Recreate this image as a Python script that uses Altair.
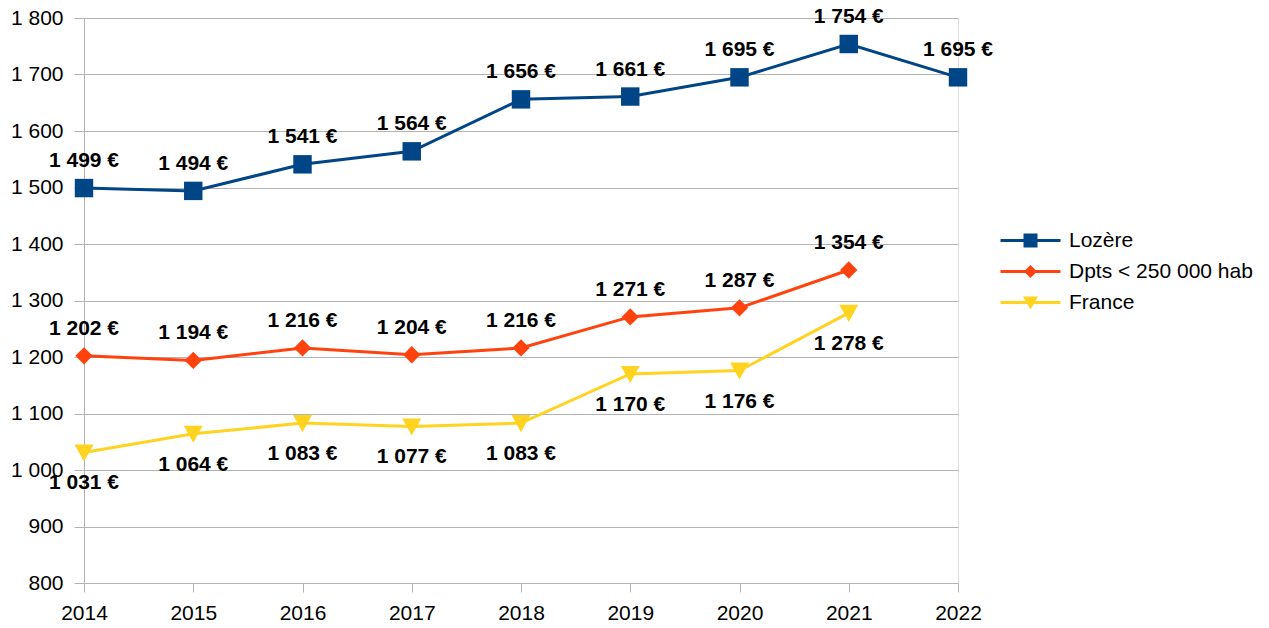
import altair as alt
import pandas as pd

years = [2014, 2015, 2016, 2017, 2018, 2019, 2020, 2021, 2022]
series_names = ["Lozère", "Dpts < 250 000 hab", "France"]
lozere = [1499, 1494, 1541, 1564, 1656, 1661, 1695, 1754, 1695]
dpts = [1202, 1194, 1216, 1204, 1216, 1271, 1287, 1354]
france = [1031, 1064, 1083, 1077, 1083, 1170, 1176, 1278]
colors = ["#004586", "#ff420e", "#ffd320"]
y_ticks = [800, 900, 1000, 1100, 1200, 1300, 1400, 1500, 1600, 1700, 1800]

rows = []
for name, vals in zip(series_names, [lozere, dpts, france]):
    for yr, v in zip(years, vals):
        rows.append({"year": yr, "value": v, "series": name,
                     "label": f"{v:,}".replace(",", " ") + " €"})
df = pd.DataFrame(rows)

FONT = "Liberation Sans"
FS = 21

color_scale = alt.Scale(domain=series_names, range=colors)

# legend symbols: line + marker (custom path, unit = 10px)
line_p = "M-3,-0.15H3V0.15H-3Z"
legend_paths = [
    line_p + "M-0.7,-0.7H0.7V0.7H-0.7Z",
    line_p + "M0,-0.65L0.65,0L0,0.65L-0.65,0Z",
    line_p + "M-0.75,-0.6H0.75L0,0.7Z",
]

legend = alt.Legend(
    title=None, orient="none", legendX=936, legendY=212,
    labelFont=FONT, labelFontSize=FS, labelColor="#000000", labelLimit=400,
    symbolSize=400, labelOffset=28, rowPadding=9, padding=0,
    symbolStrokeWidth=0, symbolOpacity=1,
)

x_enc = alt.X("year:Q", scale=alt.Scale(domain=[2014, 2022], nice=False, zero=False),
              axis=alt.Axis(values=years, format="d", title=None, grid=False,
                            labelFont=FONT, labelFontSize=FS, labelColor="#000000",
                            domainColor="#b3b3b3", tickColor="#b3b3b3", tickSize=9,
                            labelPadding=10, labelFlush=False))
y_enc = alt.Y("value:Q", scale=alt.Scale(domain=[800, 1800], nice=False, zero=False),
              axis=alt.Axis(values=y_ticks, title=None, grid=True, gridColor="#b3b3b3",
                            labelExpr="replace(format(datum.value, ','), ',', ' ')",
                            labelFont=FONT, labelFontSize=FS, labelColor="#000000",
                            domainColor="#b3b3b3", tickColor="#b3b3b3", tickSize=10,
                            labelPadding=11))

base = alt.Chart(df)

# legend-only layer: no rows drawn, entries come from the explicit scale domain
legend_layer = base.transform_filter("false").mark_point(filled=True).encode(
    x=x_enc, y=y_enc,
    color=alt.Color("series:N", scale=color_scale, legend=legend),
    shape=alt.Shape("series:N", scale=alt.Scale(domain=series_names, range=legend_paths), legend=legend),
)

lines = base.mark_line(strokeWidth=3).encode(
    x="year:Q", y="value:Q",
    color=alt.Color("series:N", scale=color_scale, legend=legend),
)

marker_shapes = [
    "M-1,-1H1V1H-1Z",
    "M0,-1L1,0L0,1L-1,0Z",
    "M-1,-0.85H1L0,0.95Z",
]
marker_sizes = [340, 300, 361]
point_layers = []
for name, shp, sz in zip(series_names, marker_shapes, marker_sizes):
    point_layers.append(
        base.transform_filter(alt.datum.series == name)
        .mark_point(filled=True, opacity=1, strokeWidth=0, shape=shp, size=sz)
        .encode(x="year:Q", y="value:Q",
                color=alt.Color("series:N", scale=color_scale, legend=legend))
    )

above = base.transform_filter(alt.datum.series != "France").mark_text(
    font=FONT, fontSize=FS, fontWeight="bold", color="#000000", baseline="middle", dy=-27
).encode(x="year:Q", y="value:Q", text="label:N")

below = base.transform_filter(alt.datum.series == "France").mark_text(
    font=FONT, fontSize=FS, fontWeight="bold", color="#000000", baseline="middle", dy=31
).encode(x="year:Q", y="value:Q", text="label:N")

chart = alt.layer(legend_layer, lines, *point_layers, above, below).properties(
    width=874, height=565,
    autosize=alt.AutoSizeParams(type="none"),
    padding={"left": 76, "top": 10, "right": 303, "bottom": 45},
).configure_view(stroke="#b3b3b3", strokeWidth=1).configure(background="white")

chart.save("out.html", embed_options={"renderer": "svg", "actions": False})
